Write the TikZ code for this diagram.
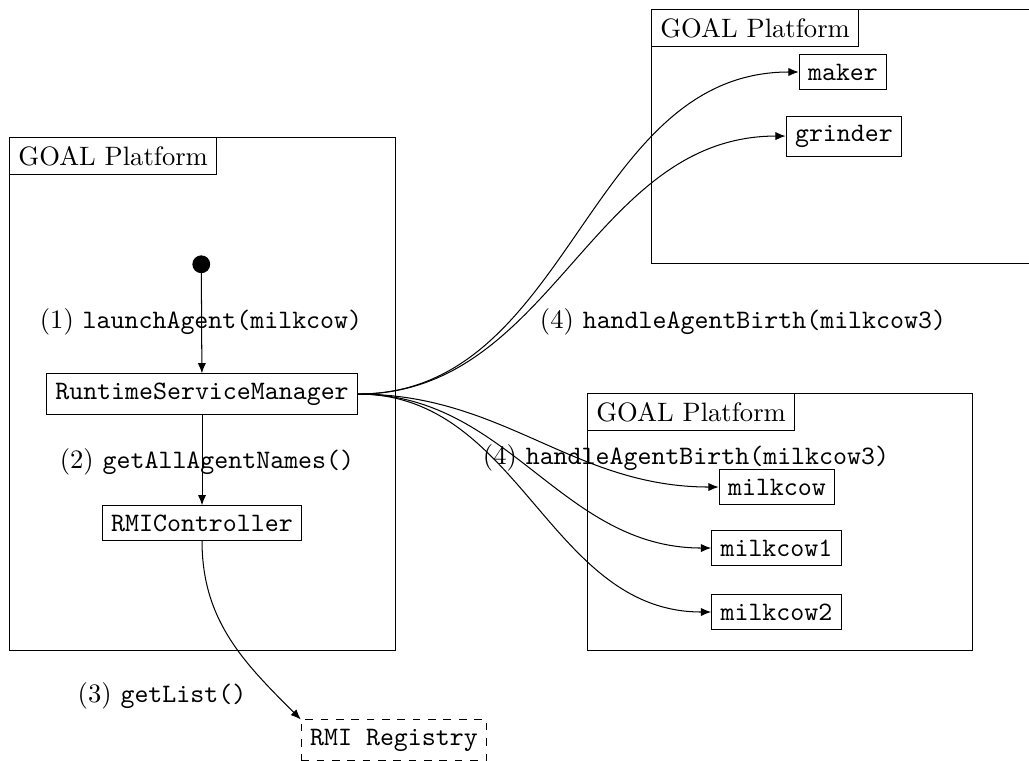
\documentclass[tikz,border=0pt]{standalone}
\usetikzlibrary{arrows,arrows.meta,positioning}
\tikzset{
    platform/.style = {rectangle,
                    draw=black,
                    fill=none,
                    inner sep=0pt,
                    anchor=north west},
    title/.style =  {rectangle,
                    draw=black,
                    fill=white,
                    text=black,
                    anchor=north west},
    agent/.style =  {rectangle,
                    draw=black,
                    fill=white,
                    text=black,
                    font=\ttfamily},
    registry/.style = {rectangle,
                    draw=black,
                    dashed,
                    fill=white,
                    text=black,
                    font=\ttfamily},
    start/.style =  {circle,
                    fill=black,
                    draw=black,
                    inner sep=0pt,
                    minimum size=0.23cm},
    -,
    >={Latex[length=4pt,width=3.2pt]},
    draw=black}

\begin{document}
\fontsize{10.4pt}{12.5pt}\selectfont
\begin{tikzpicture}
            \useasboundingbox (0,0) rectangle (14.135,10.44);

            \node[platform,minimum width=5.302cm,minimum height=7.047cm] (P1) at (0.124,8.558)  {};
            \node[platform,minimum width=5.300cm,minimum height=3.489cm] (P2) at (8.942,10.316) {};
            \node[platform,minimum width=5.288cm,minimum height=3.530cm] (P3) at (8.063,5.041)  {};

            \node[title]        (T1) at (P1.north west)          {GOAL Platform};
            \node[title]        (T2) at (P2.north west)          {GOAL Platform};
            \node[title]        (T3) at (P3.north west)          {GOAL Platform};

            \node[start]        (S)   at (2.765,6.810)           {};
            \node[agent]        (RSM) at (2.775,5.027)           {RuntimeServiceManager};
            \node[agent]        (RMI) at (2.775,3.255)           {RMIController};
            \node[registry]     (REG) at (5.412,0.275)           {RMI Registry};

            \node[agent]        (MK)  at (11.580,9.451)          {maker};
            \node[agent]        (GR)  at (11.593,8.571)          {grinder};
            \node[agent]        (MC)  at (10.673,3.750)          {milkcow};
            \node[agent]        (MC1) at (10.666,2.912)          {milkcow1};
            \node[agent]        (MC2) at (10.666,2.033)          {milkcow2};

            \node[]             (L1)  at (2.761,6.016)           {(1) \texttt{launchAgent(milkcow)}};
            \node[]             (L2)  at (2.843,4.093)           {(2) \texttt{getAllAgentNames()}};
            \node[]             (L3)  at (2.225,0.879)           {(3) \texttt{getList()}};
            \node[]             (L4)  at (10.206,6.016)          {(4) \texttt{handleAgentBirth(milkcow3)}};
            \node[]             (L5)  at (9.423,4.148)           {(4) \texttt{handleAgentBirth(milkcow3)}};

            \draw[->]  (S.center) -- (RSM);
            \draw[->]  (RSM) -- (RMI);
            \draw[->]  (RMI.south) to[out=-90,in=135] (REG.north west);

            \draw[->]  (RSM.east) to[out=0,in=180] (MK.west);
            \draw[->]  (RSM.east) to[out=0,in=180] (GR.west);
            \draw[->]  (RSM.east) to[out=0,in=180] (MC.west);
            \draw[->]  (RSM.east) to[out=0,in=180] (MC1.west);
            \draw[->]  (RSM.east) to[out=0,in=180] (MC2.west);
        \end{tikzpicture}
\end{document}
